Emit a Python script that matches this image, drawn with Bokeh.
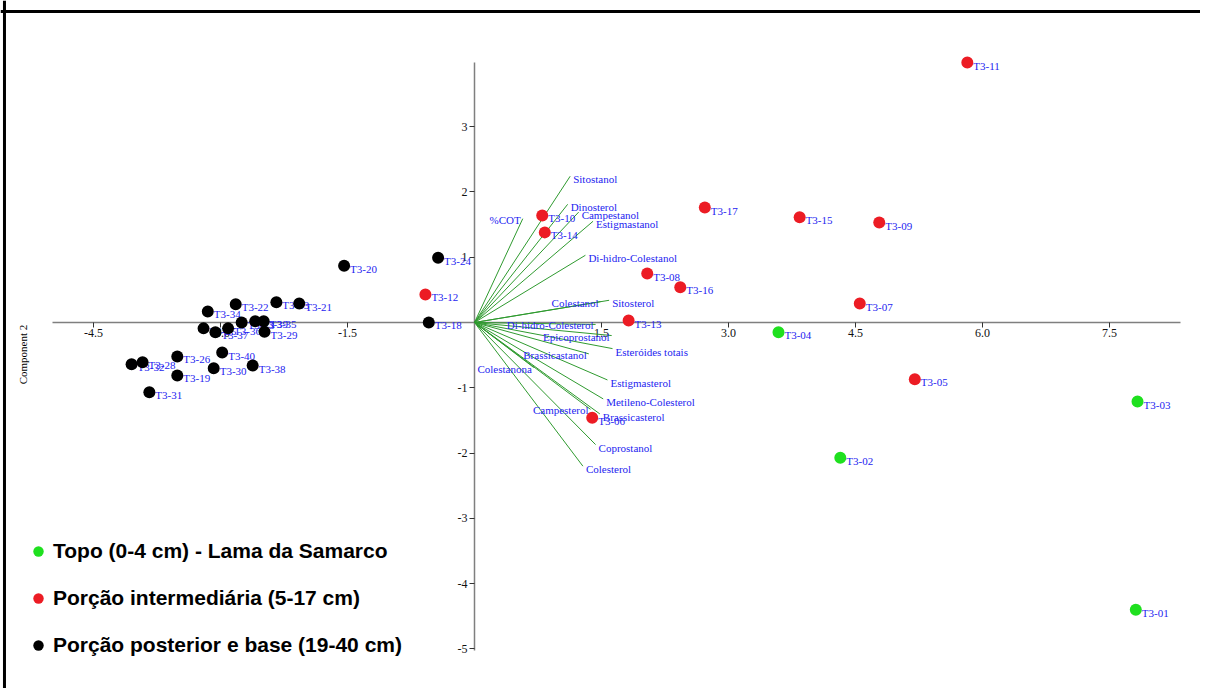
import math
from bokeh.plotting import figure
from bokeh.models import (ColumnDataSource, Range1d, FixedTicker, Span, Label,
                          Legend, LegendItem, NumeralTickFormatter)
from bokeh.core.properties import value
from bokeh.embed import file_html
from bokeh.resources import INLINE

# ---------------- data (PCA scores) ----------------
topo_names = ["T3-01", "T3-02", "T3-03", "T3-04"]
topo_pc1 = [7.81, 4.32, 7.83, 3.59]
topo_pc2 = [-4.40, -2.07, -1.21, -0.15]

inter_names = ["T3-05", "T3-06", "T3-07", "T3-08", "T3-09", "T3-10", "T3-11",
               "T3-12", "T3-13", "T3-14", "T3-15", "T3-16", "T3-17"]
inter_pc1 = [5.20, 1.39, 4.55, 2.04, 4.78, 0.80, 5.82, -0.58, 1.82, 0.83, 3.84, 2.43, 2.72]
inter_pc2 = [-0.87, -1.46, 0.29, 0.75, 1.53, 1.64, 3.98, 0.43, 0.03, 1.38, 1.61, 0.54, 1.76]

base_names = ["T3-18", "T3-19", "T3-20", "T3-21", "T3-22", "T3-23", "T3-24", "T3-25",
              "T3-26", "T3-28", "T3-29", "T3-30", "T3-31", "T3-32", "T3-33", "T3-34",
              "T3-35", "T3-36", "T3-37", "T3-38", "T3-39", "T3-40"]
base_pc1 = [-0.54, -3.51, -1.54, -2.07, -2.82, -2.75, -0.43, -3.20,
            -3.51, -3.92, -2.48, -3.08, -3.84, -4.05, -2.34, -3.15,
            -2.49, -2.91, -3.06, -2.62, -2.59, -2.98]
base_pc2 = [0.00, -0.81, 0.87, 0.29, 0.28, 0.00, 0.99, -0.09,
            -0.52, -0.61, -0.14, -0.70, -1.07, -0.64, 0.31, 0.17,
            0.02, -0.09, -0.15, -0.66, 0.02, -0.46]

# ---------------- data (loadings / variable vectors) ----------------
var_names = ["Sitostanol", "Dinosterol", "Campestanol", "Estigmastanol", "%COT",
             "Di-hidro-Colestanol", "Colestanol", "Sitosterol", "Di-hidro-Colesterol",
             "Epicoprostanol", "Esteróides totais", "Brassicastanol", "Colestanona",
             "Estigmasterol", "Metileno-Colesterol", "Brassicasterol", "Campesterol",
             "Coprostanol", "Colesterol"]
var_pc1 = [1.13, 1.10, 1.23, 1.40, 0.57, 1.31, 1.49, 1.59, 1.43,
           1.62, 1.63, 1.35, 0.70, 1.57, 1.52, 1.48, 1.37, 1.43, 1.28]
var_pc2 = [2.24, 1.81, 1.69, 1.55, 1.59, 1.03, 0.32, 0.34, -0.03,
           -0.20, -0.40, -0.48, -0.69, -0.88, -1.17, -1.40, -1.33, -1.87, -2.20]

x_ticks = [-4.5, -3.0, -1.5, 1.5, 3.0, 4.5, 6.0, 7.5]
y_ticks = [-5, -4, -3, -2, -1, 1, 2, 3]

legend_labels = ["Topo (0-4 cm) - Lama da Samarco",
                 "Porção intermediária (5-17 cm)",
                 "Porção posterior e base (19-40 cm)"]
y_axis_title = "Component 2"

# ---------------- styles ----------------
GREEN = "#1fe01f"
RED = "#ec1c24"
BLACK = "#000000"
LABEL_BLUE = "#2424f0"
VEC_GREEN = "#2f9a2f"
SERIF = "Liberation Serif"
right_aligned_vars = {"%COT", "Colestanol", "Di-hidro-Colesterol", "Epicoprostanol",
                      "Brassicastanol", "Colestanona", "Campesterol"}

p = figure(width=1200, height=688,
           x_range=Range1d(-5.598, 8.574), y_range=Range1d(-5.605, 4.931),
           output_backend="svg", toolbar_location=None, min_border=0,
           background_fill_color="white", border_fill_color="white")
p.grid.visible = False
p.outline_line_color = None

# axes crossing at the origin
for ax, ticks, fmt, bnds in ((p.xaxis, x_ticks, "0.0", (-4.98, 8.34)),
                             (p.yaxis, y_ticks, "0", (-5.02, 3.98))):
    ax.fixed_location = 0
    ax.bounds = bnds
    ax.ticker = FixedTicker(ticks=ticks)
    ax.formatter = NumeralTickFormatter(format=fmt)
    ax.axis_line_color = "#7f7f7f"
    ax.axis_line_width = 1.5
    ax.major_tick_line_color = "#333333"
    ax.major_tick_in = 0
    ax.major_tick_out = 5
    ax.minor_tick_line_color = None
    ax.major_label_text_font = SERIF
    ax.major_label_text_font_size = "12px"
    ax.major_label_text_color = "#111111"
    ax.major_label_standoff = 2
    ax.level = "underlay"

# frame border lines (top & left)
p.add_layout(Span(location=4.763, dimension="width", line_color="black", line_width=3))
p.add_layout(Span(location=-5.551, dimension="height", line_color="black", line_width=3))

# variable vectors
vsrc = ColumnDataSource(dict(x0=[0.0] * len(var_names), y0=[0.0] * len(var_names),
                             x1=var_pc1, y1=var_pc2, name=var_names))
p.segment(x0="x0", y0="y0", x1="x1", y1="y1", source=vsrc,
          line_color=VEC_GREEN, line_width=1)

left_idx = [i for i, n in enumerate(var_names) if n not in right_aligned_vars]
right_idx = [i for i, n in enumerate(var_names) if n in right_aligned_vars]
for idx, align, dx, dy in ((left_idx, "left", 3, 3), (right_idx, "right", -2, 1)):
    src = ColumnDataSource(dict(x=[var_pc1[i] for i in idx], y=[var_pc2[i] for i in idx],
                                t=[var_names[i] for i in idx]))
    p.text(x="x", y="y", text="t", source=src, x_offset=dx, y_offset=dy,
           text_align=align, text_baseline="middle",
           text_font=value(SERIF), text_font_size="11px", text_color=LABEL_BLUE)

# sample labels, then points
groups = [(topo_names, topo_pc1, topo_pc2, GREEN),
          (inter_names, inter_pc1, inter_pc2, RED),
          (base_names, base_pc1, base_pc2, BLACK)]
for names, xs, ys, col in groups:
    src = ColumnDataSource(dict(x=xs, y=ys, t=names))
    p.text(x="x", y="y", text="t", source=src, x_offset=6, y_offset=3,
           text_align="left", text_baseline="middle",
           text_font=value(SERIF), text_font_size="11px", text_color=LABEL_BLUE)

renderers = []
for names, xs, ys, col in groups:
    src = ColumnDataSource(dict(x=xs, y=ys))
    r = p.scatter(x="x", y="y", source=src, size=12, fill_color=col, line_color=None)
    renderers.append(r)

legend = Legend(items=[LegendItem(label=lab, renderers=[r])
                       for lab, r in zip(legend_labels, renderers)],
                location=(25, 30), orientation="vertical",
                glyph_width=26, glyph_height=26, label_height=26, spacing=21,
                label_standoff=2, padding=0, margin=0,
                border_line_color=None, background_fill_alpha=0,
                label_text_font="Liberation Sans", label_text_font_style="bold",
                label_text_font_size="21px", label_text_color="black")
p.add_layout(legend, "center")

p.add_layout(Label(x=-5.333, y=-0.49, text=y_axis_title, angle=math.pi / 2,
                   text_align="center", text_baseline="middle",
                   text_font=SERIF, text_font_size="11px", text_color="black"))

open("out.html", "w").write(file_html(p, INLINE))
